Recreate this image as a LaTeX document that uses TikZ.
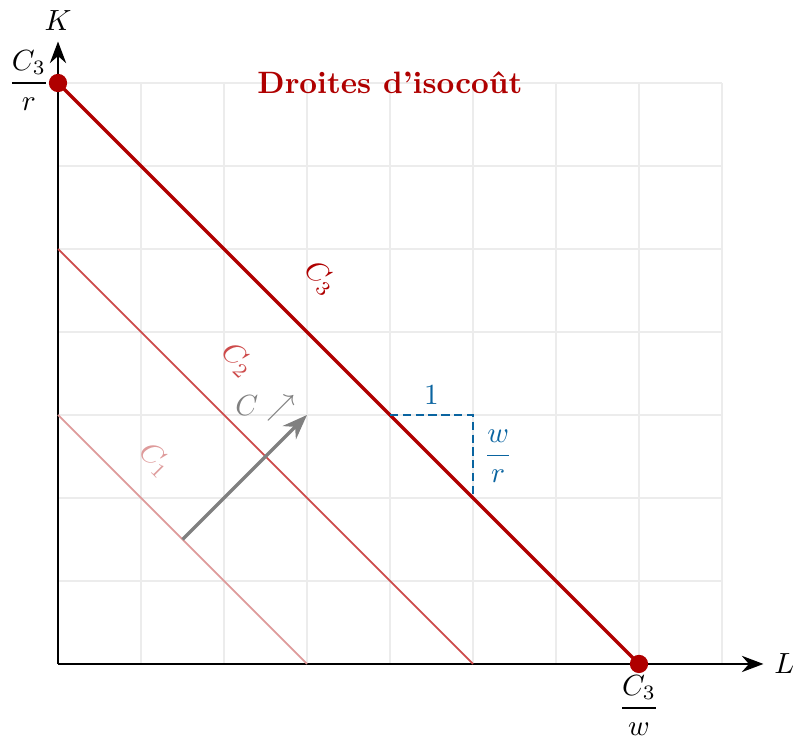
\documentclass[tikz,border=0pt]{standalone}
\usepackage{amsmath,amssymb}
\usetikzlibrary{arrows.meta,positioning}
\definecolor{isored}{RGB}{175,0,0}
\definecolor{isomid}{RGB}{205,75,75}
\definecolor{isolight}{RGB}{222,155,155}
\definecolor{slopeblue}{RGB}{10,100,160}

\begin{document}
\begin{tikzpicture}[
	axis/.style={thick,-{Stealth[length=2.6mm]}},
	isoline/.style={semithick},
	dot/.style={circle,fill=isored,inner sep=0pt,minimum size=2.2mm},
	slope/.style={slopeblue,thick,dash pattern=on 2.8pt off 1.6pt}]
	\useasboundingbox (-0.699,-0.94) rectangle (8.892,8.0);
	\draw[gray!15,thin] (0,0) grid (8,7);
	% axes
	\coordinate (O) at (0,0);
	\coordinate (Lend) at (8.5,0);
	\coordinate (Kend) at (0,7.5);
	\draw[axis] (O) -- (Lend) node[right] (L) {$L$};
	\draw[axis] (O) -- (Kend) node[above] (K) {$K$};
	% isocost lines
	\coordinate (k1) at (0,3); \coordinate (l1) at (3,0);
	\coordinate (k2) at (0,5); \coordinate (l2) at (5,0);
	\coordinate (k3) at (0,7); \coordinate (l3) at (7,0);
	\draw[isoline,isolight] (k1) -- (l1);
	\draw[isoline,isomid] (k2) -- (l2);
	\draw[very thick,isored] (k3) -- (l3);
	\node[rotate=-45,isolight] (c1) at (1.17,2.46) {$C_1$};
	\node[rotate=-45,isomid]   (c2) at (2.16,3.66) {$C_2$};
	\node[rotate=-45,isored]   (c3) at (3.16,4.65) {$C_3$};
	% direction
	\coordinate (a0) at (1.5,1.5);
	\coordinate (a1) at (3,3);
	\draw[very thick,gray,-{Stealth[length=3mm]}] (a0) -- (a1);
	\node[gray] (dir) at (2.5,3.08) {$C \nearrow$};
	% slope
	\coordinate (s0) at (4,3);
	\coordinate (s1) at (5,3);
	\coordinate (s2) at (5,2);
	\draw[slope] (s0) -- node[above] (one) {$1$} (s1) -- node[right] (wr) {$\dfrac{w}{r}$} (s2);
	% intercepts
	\node[dot] (pk) at (k3) {};
	\node[dot] (pl) at (l3) {};
	\node[anchor=east] (ck) at (0.02,7.03) {$\dfrac{C_3}{r}$};
	\node (cl) at (7,-0.5) {$\dfrac{C_3}{w}$};
	\node[isored,font=\fontsize{10.6}{13}\selectfont\bfseries] (title) at (4,7) {Droites d'isocoût};
\end{tikzpicture}
\end{document}
